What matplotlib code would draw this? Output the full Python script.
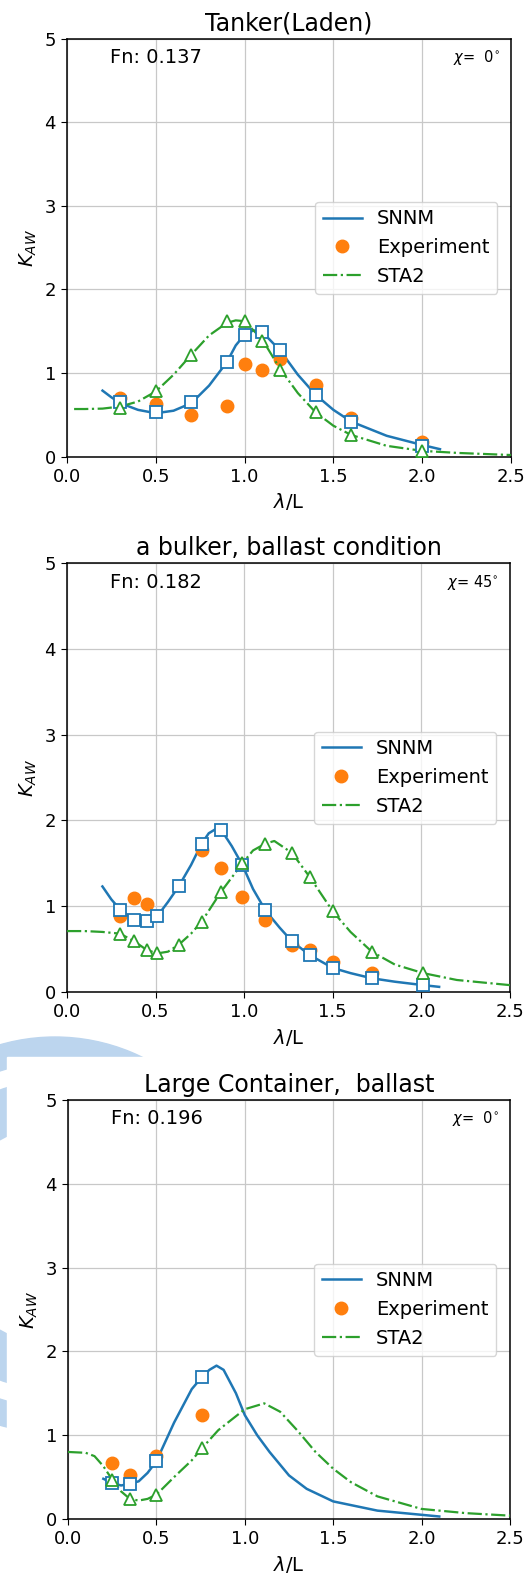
import matplotlib
matplotlib.use("Agg")
import matplotlib.pyplot as plt
from matplotlib.patches import Wedge, Rectangle

# ---- Tanker (Laden) ----
tanker_line_x = [0.2, 0.25, 0.3, 0.4, 0.5, 0.6, 0.7, 0.8, 0.9, 0.95, 1.0, 1.05, 1.1, 1.2, 1.3, 1.4, 1.5, 1.6, 1.8, 2.0, 2.1]
tanker_line_y = [0.79, 0.71, 0.64, 0.56, 0.52, 0.55, 0.64, 0.85, 1.13, 1.33, 1.46, 1.51, 1.49, 1.27, 0.98, 0.74, 0.56, 0.42, 0.25, 0.14, 0.09]
tanker_pts_x = [0.3, 0.5, 0.7, 0.9, 1.0, 1.1, 1.2, 1.4, 1.6, 2.0]
tanker_snnm = [0.65, 0.53, 0.65, 1.13, 1.46, 1.49, 1.27, 0.74, 0.42, 0.13]
tanker_exp = [0.70, 0.63, 0.50, 0.61, 1.11, 1.04, 1.17, 0.86, 0.46, 0.17]
tanker_sta2 = [0.58, 0.78, 1.22, 1.62, 1.62, 1.38, 1.04, 0.53, 0.26, 0.07]
tanker_sta2_x = [0.04, 0.1, 0.2, 0.3, 0.4, 0.5, 0.6, 0.7, 0.8, 0.9, 0.95, 1.0, 1.1, 1.2, 1.3, 1.4, 1.5, 1.6, 1.8, 2.0, 2.2, 2.5]
tanker_sta2_y = [0.57, 0.57, 0.575, 0.60, 0.66, 0.78, 0.98, 1.22, 1.45, 1.60, 1.63, 1.62, 1.40, 1.05, 0.76, 0.53, 0.37, 0.26, 0.13, 0.07, 0.045, 0.02]

# ---- Bulker, ballast ----
bulker_line_x = [0.2, 0.25, 0.3, 0.38, 0.45, 0.51, 0.57, 0.63, 0.7, 0.76, 0.8, 0.84, 0.87, 0.93, 0.99, 1.05, 1.12, 1.2, 1.27, 1.37, 1.5, 1.6, 1.72, 1.85, 2.01, 2.1]
bulker_line_y = [1.23, 1.08, 0.96, 0.84, 0.83, 0.885, 1.05, 1.23, 1.48, 1.73, 1.85, 1.90, 1.89, 1.70, 1.48, 1.20, 0.95, 0.75, 0.59, 0.43, 0.28, 0.22, 0.16, 0.12, 0.08, 0.06]
bulker_pts_x = [0.3, 0.38, 0.45, 0.51, 0.63, 0.76, 0.87, 0.99, 1.12, 1.27, 1.37, 1.5, 1.72, 2.01]
bulker_snnm = [0.96, 0.84, 0.83, 0.885, 1.23, 1.73, 1.89, 1.48, 0.95, 0.59, 0.43, 0.28, 0.16, 0.08]
bulker_sta2 = [0.68, 0.59, 0.49, 0.45, 0.55, 0.82, 1.17, 1.50, 1.73, 1.62, 1.34, 0.94, 0.47, 0.22]
bulker_exp_x = [0.3, 0.38, 0.45, 0.76, 0.87, 0.99, 1.12, 1.27, 1.37, 1.5, 1.72]
bulker_exp = [0.88, 1.09, 1.03, 1.65, 1.44, 1.11, 0.84, 0.55, 0.49, 0.35, 0.22]
bulker_sta2_x = [0.0, 0.1, 0.2, 0.3, 0.38, 0.45, 0.51, 0.57, 0.63, 0.7, 0.76, 0.87, 0.99, 1.05, 1.12, 1.17, 1.27, 1.37, 1.5, 1.6, 1.72, 1.85, 2.01, 2.2, 2.5]
bulker_sta2_y = [0.71, 0.71, 0.70, 0.68, 0.59, 0.49, 0.45, 0.47, 0.55, 0.68, 0.82, 1.17, 1.50, 1.65, 1.73, 1.76, 1.62, 1.34, 0.94, 0.70, 0.47, 0.32, 0.22, 0.14, 0.08]

# ---- Large container, ballast ----
container_line_x = [0.2, 0.25, 0.3, 0.35, 0.4, 0.45, 0.5, 0.6, 0.7, 0.76, 0.8, 0.84, 0.88, 0.95, 1.0, 1.07, 1.14, 1.25, 1.35, 1.5, 1.75, 2.0, 2.1]
container_line_y = [0.48, 0.43, 0.40, 0.42, 0.45, 0.55, 0.69, 1.15, 1.55, 1.70, 1.78, 1.83, 1.78, 1.50, 1.24, 1.00, 0.80, 0.52, 0.36, 0.21, 0.10, 0.05, 0.03]
container_pts_x = [0.25, 0.35, 0.5, 0.76]
container_snnm = [0.43, 0.42, 0.69, 1.70]
container_exp = [0.67, 0.52, 0.75, 1.24]
container_sta2 = [0.47, 0.24, 0.29, 0.85]
container_sta2_x = [0.0, 0.1, 0.15, 0.2, 0.25, 0.3, 0.35, 0.4, 0.45, 0.5, 0.6, 0.7, 0.76, 0.85, 1.0, 1.11, 1.2, 1.3, 1.4, 1.5, 1.6, 1.75, 2.0, 2.25, 2.5]
container_sta2_y = [0.80, 0.79, 0.75, 0.63, 0.47, 0.33, 0.24, 0.22, 0.24, 0.29, 0.50, 0.70, 0.85, 1.06, 1.31, 1.38, 1.28, 1.05, 0.80, 0.60, 0.44, 0.27, 0.12, 0.07, 0.04]

titles = ["Tanker(Laden)", "a bulker, ballast condition", "Large Container,  ballast"]
fn_labels = ["Fn: 0.137", "Fn: 0.182", "Fn: 0.196"]
chi_labels = [r"$\chi$=  0$^{\circ}$", r"$\chi$= 45$^{\circ}$", r"$\chi$=  0$^{\circ}$"]

panels = [
    (tanker_line_x, tanker_line_y, tanker_pts_x, tanker_snnm, tanker_pts_x, tanker_exp,
     tanker_pts_x, tanker_sta2, tanker_sta2_x, tanker_sta2_y),
    (bulker_line_x, bulker_line_y, bulker_pts_x, bulker_snnm, bulker_exp_x, bulker_exp,
     bulker_pts_x, bulker_sta2, bulker_sta2_x, bulker_sta2_y),
    (container_line_x, container_line_y, container_pts_x, container_snnm, container_pts_x, container_exp,
     container_pts_x, container_sta2, container_sta2_x, container_sta2_y),
]

W, H = 529, 1579
# axes boxes in pixels: left, right, top, bottom
boxes = [(67, 511, 38.5, 456.7), (67, 510, 563, 992), (68, 510, 1100, 1519)]

plt.rcParams["font.size"] = 14
plt.rcParams["axes.linewidth"] = 1.1
plt.rcParams["xtick.major.size"] = 4.5
plt.rcParams["ytick.major.size"] = 4.5
plt.rcParams["xtick.labelsize"] = 13
plt.rcParams["ytick.labelsize"] = 13

fig = plt.figure(figsize=(W / 100, H / 100), dpi=100)

# faint seal watermark peeking out behind the last panel
seal = ((0.55, (H - 1235) / 100))
fig.add_artist(Wedge(seal, 1.98, 0, 360, width=0.25,
                     transform=fig.dpi_scale_trans, color="#bcd5ee", zorder=-3))
fig.add_artist(Wedge(seal, 1.55, 0, 360, width=0.45,
                     transform=fig.dpi_scale_trans, color="#bcd5ee", zorder=-3))
fig.add_artist(Rectangle((0.07, 0), (W - 7) / 100, (H - 1057) / 100,
                         transform=fig.dpi_scale_trans, color="white", zorder=-2))

for i, (l, r, t, b) in enumerate(boxes):
    ax = fig.add_axes([l / W, 1 - b / H, (r - l) / W, (b - t) / H])
    lx, ly, sx, sy, ex, ey, tx, ty, gx, gy = panels[i]

    ax.plot(lx, ly, color="C0", lw=1.8, label="SNNM", zorder=3)
    ax.plot(ex, ey, "o", color="C1", ms=9, label="Experiment", zorder=3)
    ax.plot(gx, gy, "-.", color="C2", lw=1.6, label="STA2", zorder=3)
    ax.plot(sx, sy, "s", mfc="white", mec="C0", mew=1.3, ms=9, zorder=4)
    ax.plot(tx, ty, "^", mfc="white", mec="C2", mew=1.3, ms=9, zorder=4)

    ax.set_xlim(0, 2.5)
    ax.set_ylim(0, 5)
    ax.set_xticks([0.0, 0.5, 1.0, 1.5, 2.0, 2.5])
    ax.set_yticks([0, 1, 2, 3, 4, 5])
    ax.grid(True, color="#c8c8c8", lw=0.9)
    ax.set_title(titles[i], fontsize=17)
    ax.set_xlabel(r"$\lambda$/L")
    ax.set_ylabel(r"$K_{AW}$")
    ax.text(0.097, 0.955, fn_labels[i], transform=ax.transAxes, ha="left", va="center")
    ax.text(0.975, 0.955, chi_labels[i], transform=ax.transAxes, ha="right", va="center", fontsize=10.5)
    ax.legend(loc="center right", borderaxespad=0.7)

fig.savefig("out.png", dpi=100)
